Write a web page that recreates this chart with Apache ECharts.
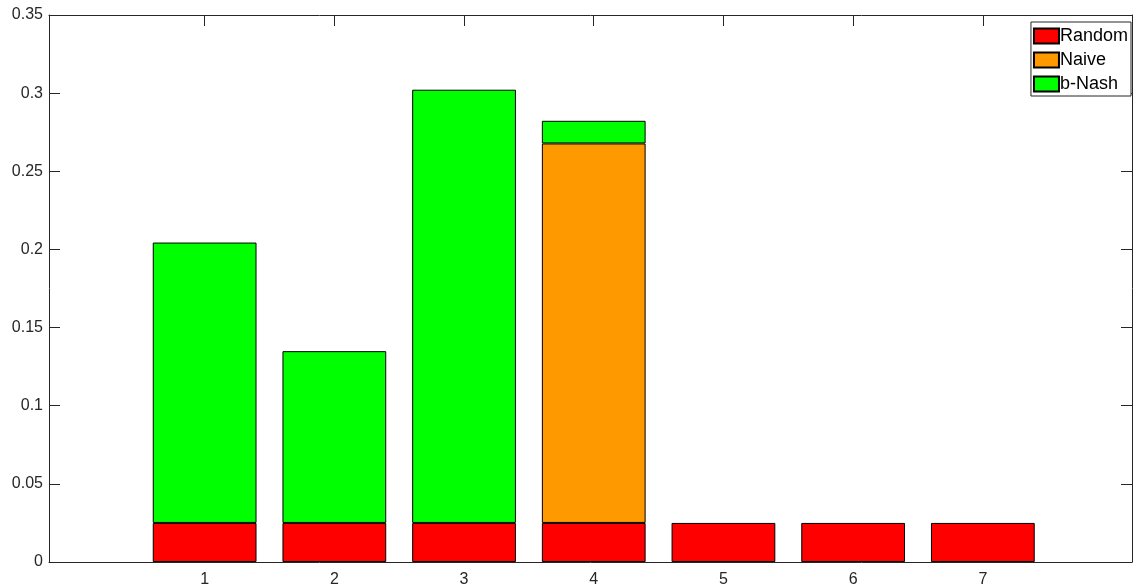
<!DOCTYPE html>
<html>
<head>
<meta charset="utf-8">
<script src="https://cdn.jsdelivr.net/npm/echarts@6/dist/echarts.min.js"></script>
<style>html,body{margin:0;padding:0;background:#fff}#c{width:1133px;height:588px}</style>
</head>
<body>
<div id="c"></div>
<script>
const categories = ['1', '2', '3', '4', '5', '6', '7'];
const tickValues = [1, 2, 3, 4, 5, 6, 7];
const randomVals = [0.025, 0.025, 0.025, 0.025, 0.025, 0.025, 0.025];
const naiveVals  = [0, 0, 0, 0.2428, 0, 0, 0];
const bnashVals  = [0.1794, 0.1099, 0.2772, 0.0145, 0, 0, 0];

const ink = '#262626';
const font = 'Liberation Sans, Arial, Helvetica, sans-serif';

// main frame geometry
const W = 1133, gLeft = 49, gRight = 1, xMin = -0.2, xMax = 8.15;
const pxPerUnit = (W - gLeft - gRight) / (xMax - xMin);
// hidden category grid aligned so that bands are centred on x = 1..7
const barLeft = gLeft + (0.5 - xMin) * pxPerUnit;
const barRight = W - gRight - (xMax - 7.5) * pxPerUnit;

// zero-height segments are not drawn (avoids doubled borders)
const seg = vals => vals.map(v => (v === 0 ? '-' : v));

const barBase = {
  type: 'bar', stack: 'total', barWidth: '80%',
  xAxisIndex: 2, yAxisIndex: 2,
  itemStyle: { borderColor: '#000', borderWidth: 1 },
  emphasis: { disabled: true }
};

const xCommon = {
  type: 'value', min: xMin, max: xMax, gridIndex: 0,
  splitLine: { show: false },
  axisLine: { show: true, onZero: false, lineStyle: { color: ink, width: 1 } },
  axisTick: { show: true, inside: true, length: 11, customValues: tickValues, lineStyle: { color: ink } }
};
const yCommon = {
  type: 'value', min: 0, max: 0.35, interval: 0.05, gridIndex: 0,
  splitLine: { show: false },
  axisLine: { show: true, onZero: false, lineStyle: { color: ink, width: 1 } },
  axisTick: { show: true, inside: true, length: 11, lineStyle: { color: ink } }
};

const chart = echarts.init(document.getElementById('c'), null, { renderer: 'canvas' });
chart.setOption({
  animation: false,
  backgroundColor: '#fff',
  grid: [
    { left: gLeft, right: gRight, top: 15, bottom: 26, containLabel: false },
    { left: barLeft, right: W - barRight, top: 15, bottom: 26, containLabel: false }
  ],
  legend: {
    orient: 'vertical', right: 2, top: 22,
    data: ['Random', 'Naive', 'b-Nash'],
    icon: 'rect',
    itemWidth: 25, itemHeight: 15, itemGap: 6,
    padding: [5, 3, 3, 2],
    borderColor: ink, borderWidth: 1, backgroundColor: '#fff',
    textStyle: { fontFamily: font, fontSize: 18, color: '#000', lineHeight: 15, padding: [0, 0, 0, -4] }
  },
  xAxis: [
    Object.assign({}, xCommon, {
      position: 'bottom',
      axisLabel: { show: true, customValues: tickValues, margin: 10, fontFamily: font, fontSize: 16, color: ink,
        formatter: v => String(v) }
    }),
    Object.assign({}, xCommon, { position: 'top', axisLabel: { show: false } }),
    { type: 'category', gridIndex: 1, data: categories, show: false, boundaryGap: true }
  ],
  yAxis: [
    Object.assign({}, yCommon, {
      position: 'left',
      axisLabel: { show: true, margin: 6, fontFamily: font, fontSize: 16, color: ink, padding: [4, 0, 0, 0],
        formatter: v => String(+v.toFixed(2)) }
    }),
    Object.assign({}, yCommon, { position: 'right', axisLabel: { show: false } }),
    { type: 'value', gridIndex: 1, min: 0, max: 0.35, show: false, splitLine: { show: false } }
  ],
  series: [
    Object.assign({}, barBase, { name: 'Random', data: seg(randomVals), itemStyle: Object.assign({}, barBase.itemStyle, { color: '#ff0000' }) }),
    Object.assign({}, barBase, { name: 'Naive', data: seg(naiveVals), itemStyle: Object.assign({}, barBase.itemStyle, { color: '#ff9900' }) }),
    Object.assign({}, barBase, { name: 'b-Nash', data: seg(bnashVals), itemStyle: Object.assign({}, barBase.itemStyle, { color: '#00ff00' }) })
  ]
});
</script>
</body>
</html>
